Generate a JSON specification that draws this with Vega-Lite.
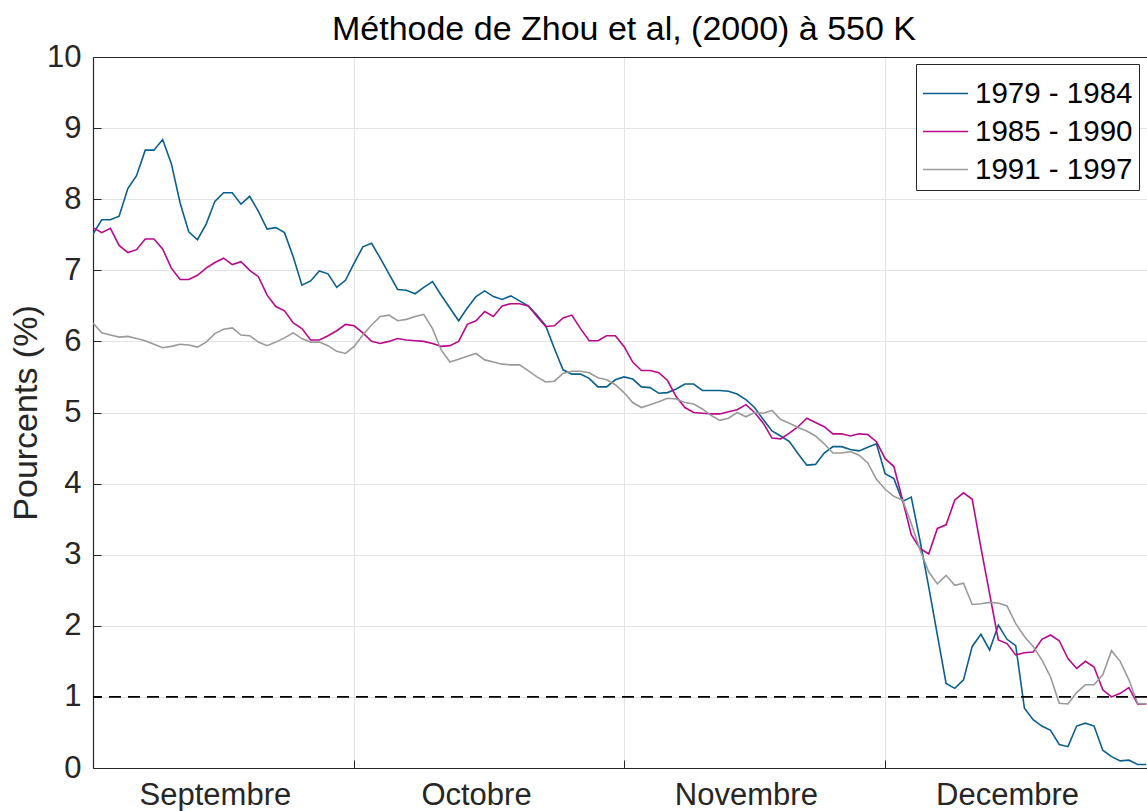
{
  "$schema": "https://vega.github.io/schema/vega-lite/v6.json",
  "width": 1054,
  "height": 711,
  "autosize": {"type": "none"},
  "padding": {"left": 93, "top": 57, "right": 0, "bottom": 43},
  "background": "white",
  "config": {
    "font": "Liberation Sans",
    "view": {"stroke": null},
    "axis": {"labelFont": "Liberation Sans", "titleFont": "Liberation Sans", "labelColor": "#262626", "titleColor": "#262626", "domainColor": "#262626", "tickColor": "#262626", "titleFontWeight": "normal"}
  },
  "title": {"text": "Méthode de Zhou et al, (2000) à 550 K", "fontSize": 34, "fontWeight": "normal", "color": "#000000", "anchor": "middle", "frame": "group", "offset": -6, "dx": 4, "font": "Liberation Sans"},
  "datasets": {
    "serie": [
      {"jour":0,"1979 - 1984":7.51,"1985 - 1990":7.60,"1991 - 1997":6.26},
      {"jour":1,"1979 - 1984":7.71,"1985 - 1990":7.53,"1991 - 1997":6.12},
      {"jour":2,"1979 - 1984":7.71,"1985 - 1990":7.59,"1991 - 1997":6.09},
      {"jour":3,"1979 - 1984":7.76,"1985 - 1990":7.35,"1991 - 1997":6.06},
      {"jour":4,"1979 - 1984":8.15,"1985 - 1990":7.25,"1991 - 1997":6.07},
      {"jour":5,"1979 - 1984":8.33,"1985 - 1990":7.29,"1991 - 1997":6.04},
      {"jour":6,"1979 - 1984":8.69,"1985 - 1990":7.44,"1991 - 1997":6.01},
      {"jour":7,"1979 - 1984":8.69,"1985 - 1990":7.44,"1991 - 1997":5.96},
      {"jour":8,"1979 - 1984":8.84,"1985 - 1990":7.30,"1991 - 1997":5.91},
      {"jour":9,"1979 - 1984":8.50,"1985 - 1990":7.03,"1991 - 1997":5.93},
      {"jour":10,"1979 - 1984":7.95,"1985 - 1990":6.87,"1991 - 1997":5.96},
      {"jour":11,"1979 - 1984":7.54,"1985 - 1990":6.87,"1991 - 1997":5.95},
      {"jour":12,"1979 - 1984":7.43,"1985 - 1990":6.93,"1991 - 1997":5.92},
      {"jour":13,"1979 - 1984":7.65,"1985 - 1990":7.03,"1991 - 1997":5.99},
      {"jour":14,"1979 - 1984":7.97,"1985 - 1990":7.11,"1991 - 1997":6.11},
      {"jour":15,"1979 - 1984":8.09,"1985 - 1990":7.17,"1991 - 1997":6.17},
      {"jour":16,"1979 - 1984":8.09,"1985 - 1990":7.08,"1991 - 1997":6.19},
      {"jour":17,"1979 - 1984":7.93,"1985 - 1990":7.12,"1991 - 1997":6.09},
      {"jour":18,"1979 - 1984":8.04,"1985 - 1990":7.00,"1991 - 1997":6.08},
      {"jour":19,"1979 - 1984":7.83,"1985 - 1990":6.91,"1991 - 1997":5.99},
      {"jour":20,"1979 - 1984":7.58,"1985 - 1990":6.65,"1991 - 1997":5.94},
      {"jour":21,"1979 - 1984":7.60,"1985 - 1990":6.49,"1991 - 1997":5.99},
      {"jour":22,"1979 - 1984":7.53,"1985 - 1990":6.43,"1991 - 1997":6.05},
      {"jour":23,"1979 - 1984":7.19,"1985 - 1990":6.26,"1991 - 1997":6.12},
      {"jour":24,"1979 - 1984":6.79,"1985 - 1990":6.18,"1991 - 1997":6.04},
      {"jour":25,"1979 - 1984":6.85,"1985 - 1990":6.02,"1991 - 1997":5.99},
      {"jour":26,"1979 - 1984":6.99,"1985 - 1990":6.02,"1991 - 1997":5.99},
      {"jour":27,"1979 - 1984":6.95,"1985 - 1990":6.08,"1991 - 1997":5.94},
      {"jour":28,"1979 - 1984":6.76,"1985 - 1990":6.15,"1991 - 1997":5.86},
      {"jour":29,"1979 - 1984":6.86,"1985 - 1990":6.24,"1991 - 1997":5.83},
      {"jour":30,"1979 - 1984":7.10,"1985 - 1990":6.22,"1991 - 1997":5.93},
      {"jour":31,"1979 - 1984":7.33,"1985 - 1990":6.12,"1991 - 1997":6.09},
      {"jour":32,"1979 - 1984":7.38,"1985 - 1990":6.00,"1991 - 1997":6.23},
      {"jour":33,"1979 - 1984":7.17,"1985 - 1990":5.97,"1991 - 1997":6.35},
      {"jour":34,"1979 - 1984":6.95,"1985 - 1990":6.00,"1991 - 1997":6.37},
      {"jour":35,"1979 - 1984":6.73,"1985 - 1990":6.04,"1991 - 1997":6.29},
      {"jour":36,"1979 - 1984":6.72,"1985 - 1990":6.02,"1991 - 1997":6.31},
      {"jour":37,"1979 - 1984":6.67,"1985 - 1990":6.01,"1991 - 1997":6.35},
      {"jour":38,"1979 - 1984":6.76,"1985 - 1990":6.00,"1991 - 1997":6.38},
      {"jour":39,"1979 - 1984":6.84,"1985 - 1990":5.97,"1991 - 1997":6.18},
      {"jour":40,"1979 - 1984":6.65,"1985 - 1990":5.93,"1991 - 1997":5.88},
      {"jour":41,"1979 - 1984":6.47,"1985 - 1990":5.94,"1991 - 1997":5.71},
      {"jour":42,"1979 - 1984":6.29,"1985 - 1990":6.00,"1991 - 1997":5.75},
      {"jour":43,"1979 - 1984":6.47,"1985 - 1990":6.24,"1991 - 1997":5.79},
      {"jour":44,"1979 - 1984":6.63,"1985 - 1990":6.29,"1991 - 1997":5.83},
      {"jour":45,"1979 - 1984":6.71,"1985 - 1990":6.42,"1991 - 1997":5.74},
      {"jour":46,"1979 - 1984":6.63,"1985 - 1990":6.35,"1991 - 1997":5.71},
      {"jour":47,"1979 - 1984":6.59,"1985 - 1990":6.50,"1991 - 1997":5.68},
      {"jour":48,"1979 - 1984":6.64,"1985 - 1990":6.53,"1991 - 1997":5.67},
      {"jour":49,"1979 - 1984":6.57,"1985 - 1990":6.53,"1991 - 1997":5.67},
      {"jour":50,"1979 - 1984":6.50,"1985 - 1990":6.50,"1991 - 1997":5.59},
      {"jour":51,"1979 - 1984":6.37,"1985 - 1990":6.35,"1991 - 1997":5.50},
      {"jour":52,"1979 - 1984":6.22,"1985 - 1990":6.21,"1991 - 1997":5.43},
      {"jour":53,"1979 - 1984":5.90,"1985 - 1990":6.22,"1991 - 1997":5.44},
      {"jour":54,"1979 - 1984":5.60,"1985 - 1990":6.33,"1991 - 1997":5.55},
      {"jour":55,"1979 - 1984":5.54,"1985 - 1990":6.37,"1991 - 1997":5.58},
      {"jour":56,"1979 - 1984":5.54,"1985 - 1990":6.18,"1991 - 1997":5.58},
      {"jour":57,"1979 - 1984":5.48,"1985 - 1990":6.01,"1991 - 1997":5.56},
      {"jour":58,"1979 - 1984":5.36,"1985 - 1990":6.01,"1991 - 1997":5.49},
      {"jour":59,"1979 - 1984":5.36,"1985 - 1990":6.08,"1991 - 1997":5.46},
      {"jour":60,"1979 - 1984":5.46,"1985 - 1990":6.08,"1991 - 1997":5.39},
      {"jour":61,"1979 - 1984":5.50,"1985 - 1990":5.93,"1991 - 1997":5.28},
      {"jour":62,"1979 - 1984":5.47,"1985 - 1990":5.71,"1991 - 1997":5.14},
      {"jour":63,"1979 - 1984":5.36,"1985 - 1990":5.59,"1991 - 1997":5.07},
      {"jour":64,"1979 - 1984":5.35,"1985 - 1990":5.59,"1991 - 1997":5.11},
      {"jour":65,"1979 - 1984":5.27,"1985 - 1990":5.56,"1991 - 1997":5.15},
      {"jour":66,"1979 - 1984":5.28,"1985 - 1990":5.45,"1991 - 1997":5.20},
      {"jour":67,"1979 - 1984":5.33,"1985 - 1990":5.22,"1991 - 1997":5.19},
      {"jour":68,"1979 - 1984":5.40,"1985 - 1990":5.07,"1991 - 1997":5.14},
      {"jour":69,"1979 - 1984":5.40,"1985 - 1990":5.00,"1991 - 1997":5.12},
      {"jour":70,"1979 - 1984":5.31,"1985 - 1990":4.99,"1991 - 1997":5.05},
      {"jour":71,"1979 - 1984":5.31,"1985 - 1990":4.98,"1991 - 1997":4.96},
      {"jour":72,"1979 - 1984":5.31,"1985 - 1990":4.98,"1991 - 1997":4.89},
      {"jour":73,"1979 - 1984":5.30,"1985 - 1990":5.01,"1991 - 1997":4.92},
      {"jour":74,"1979 - 1984":5.26,"1985 - 1990":5.04,"1991 - 1997":5.00},
      {"jour":75,"1979 - 1984":5.18,"1985 - 1990":5.11,"1991 - 1997":4.94},
      {"jour":76,"1979 - 1984":5.07,"1985 - 1990":5.00,"1991 - 1997":5.00},
      {"jour":77,"1979 - 1984":4.90,"1985 - 1990":4.85,"1991 - 1997":4.99},
      {"jour":78,"1979 - 1984":4.74,"1985 - 1990":4.64,"1991 - 1997":5.03},
      {"jour":79,"1979 - 1984":4.67,"1985 - 1990":4.63,"1991 - 1997":4.90},
      {"jour":80,"1979 - 1984":4.59,"1985 - 1990":4.71,"1991 - 1997":4.85},
      {"jour":81,"1979 - 1984":4.42,"1985 - 1990":4.80,"1991 - 1997":4.79},
      {"jour":82,"1979 - 1984":4.26,"1985 - 1990":4.92,"1991 - 1997":4.74},
      {"jour":83,"1979 - 1984":4.27,"1985 - 1990":4.86,"1991 - 1997":4.67},
      {"jour":84,"1979 - 1984":4.43,"1985 - 1990":4.80,"1991 - 1997":4.56},
      {"jour":85,"1979 - 1984":4.52,"1985 - 1990":4.70,"1991 - 1997":4.43},
      {"jour":86,"1979 - 1984":4.52,"1985 - 1990":4.70,"1991 - 1997":4.43},
      {"jour":87,"1979 - 1984":4.48,"1985 - 1990":4.67,"1991 - 1997":4.45},
      {"jour":88,"1979 - 1984":4.46,"1985 - 1990":4.70,"1991 - 1997":4.40},
      {"jour":89,"1979 - 1984":4.51,"1985 - 1990":4.69,"1991 - 1997":4.29},
      {"jour":90,"1979 - 1984":4.56,"1985 - 1990":4.59,"1991 - 1997":4.06},
      {"jour":91,"1979 - 1984":4.14,"1985 - 1990":4.35,"1991 - 1997":3.92},
      {"jour":92,"1979 - 1984":4.07,"1985 - 1990":4.24,"1991 - 1997":3.82},
      {"jour":93,"1979 - 1984":3.75,"1985 - 1990":3.77,"1991 - 1997":3.77},
      {"jour":94,"1979 - 1984":3.81,"1985 - 1990":3.28,"1991 - 1997":3.44},
      {"jour":95,"1979 - 1984":3.20,"1985 - 1990":3.09,"1991 - 1997":3.07},
      {"jour":96,"1979 - 1984":2.55,"1985 - 1990":3.01,"1991 - 1997":2.76},
      {"jour":97,"1979 - 1984":1.87,"1985 - 1990":3.37,"1991 - 1997":2.59},
      {"jour":98,"1979 - 1984":1.19,"1985 - 1990":3.42,"1991 - 1997":2.71},
      {"jour":99,"1979 - 1984":1.12,"1985 - 1990":3.77,"1991 - 1997":2.57},
      {"jour":100,"1979 - 1984":1.24,"1985 - 1990":3.87,"1991 - 1997":2.60},
      {"jour":101,"1979 - 1984":1.71,"1985 - 1990":3.78,"1991 - 1997":2.30},
      {"jour":102,"1979 - 1984":1.88,"1985 - 1990":3.10,"1991 - 1997":2.31},
      {"jour":103,"1979 - 1984":1.66,"1985 - 1990":2.45,"1991 - 1997":2.33},
      {"jour":104,"1979 - 1984":2.01,"1985 - 1990":1.80,"1991 - 1997":2.32},
      {"jour":105,"1979 - 1984":1.81,"1985 - 1990":1.75,"1991 - 1997":2.28},
      {"jour":106,"1979 - 1984":1.72,"1985 - 1990":1.59,"1991 - 1997":2.03},
      {"jour":107,"1979 - 1984":0.84,"1985 - 1990":1.62,"1991 - 1997":1.85},
      {"jour":108,"1979 - 1984":0.68,"1985 - 1990":1.63,"1991 - 1997":1.71},
      {"jour":109,"1979 - 1984":0.59,"1985 - 1990":1.81,"1991 - 1997":1.52},
      {"jour":110,"1979 - 1984":0.53,"1985 - 1990":1.87,"1991 - 1997":1.28},
      {"jour":111,"1979 - 1984":0.33,"1985 - 1990":1.79,"1991 - 1997":0.91},
      {"jour":112,"1979 - 1984":0.30,"1985 - 1990":1.54,"1991 - 1997":0.90},
      {"jour":113,"1979 - 1984":0.59,"1985 - 1990":1.40,"1991 - 1997":1.06},
      {"jour":114,"1979 - 1984":0.63,"1985 - 1990":1.50,"1991 - 1997":1.17},
      {"jour":115,"1979 - 1984":0.59,"1985 - 1990":1.42,"1991 - 1997":1.17},
      {"jour":116,"1979 - 1984":0.25,"1985 - 1990":1.10,"1991 - 1997":1.31},
      {"jour":117,"1979 - 1984":0.16,"1985 - 1990":1.00,"1991 - 1997":1.65},
      {"jour":118,"1979 - 1984":0.10,"1985 - 1990":1.05,"1991 - 1997":1.50},
      {"jour":119,"1979 - 1984":0.11,"1985 - 1990":1.13,"1991 - 1997":1.24},
      {"jour":120,"1979 - 1984":0.05,"1985 - 1990":0.90,"1991 - 1997":0.91},
      {"jour":121,"1979 - 1984":0.05,"1985 - 1990":0.90,"1991 - 1997":0.90}
    ],
    "seuil": [{"seuil": 1}]
  },
  "layer": [
    {
      "data": {"name": "serie"},
      "transform": [{"fold": ["1979 - 1984", "1985 - 1990", "1991 - 1997"], "as": ["periode", "pourcent"]}],
      "mark": {"type": "line", "strokeWidth": 1.6, "clip": true},
      "encoding": {
        "x": {
          "field": "jour", "type": "quantitative",
          "scale": {"domain": [0, 121.08], "nice": false, "zero": false},
          "axis": {
            "title": null,
            "values": [14, 30, 44, 61, 75, 91, 105],
            "labelExpr": "datum.value == 14 ? 'Septembre' : datum.value == 44 ? 'Octobre' : datum.value == 75 ? 'Novembre' : datum.value == 105 ? 'Decembre' : ''",
            "labelFontSize": 31,
            "labelOverlap": false,
            "labelFlush": false,
            "labelBound": false,
            "labelPadding": 20,
            "tickSize": -8,
            "tickOpacity": {"condition": {"test": "datum.value == 30 || datum.value == 61 || datum.value == 91", "value": 1}, "value": 0},
            "grid": true,
            "gridColor": "#e3e3e3",
            "gridOpacity": {"condition": {"test": "datum.value == 30 || datum.value == 61 || datum.value == 91", "value": 1}, "value": 0},
            "domainWidth": 1.2
          }
        },
        "y": {
          "field": "pourcent", "type": "quantitative",
          "scale": {"domain": [0, 10], "nice": false},
          "axis": {
            "title": "Pourcents (%)",
            "titleFontSize": 34,
            "titlePadding": 3,
            "values": [0, 1, 2, 3, 4, 5, 6, 7, 8, 9, 10],
            "format": "d",
            "labelFontSize": 31,
            "labelPadding": 20,
            "tickSize": -8,
            "grid": true,
            "gridColor": {"condition": {"test": "datum.value == 10", "value": "#262626"}, "value": "#e3e3e3"},
            "domainWidth": 1.2
          }
        },
        "color": {
          "field": "periode", "type": "nominal",
          "scale": {"domain": ["1979 - 1984", "1985 - 1990", "1991 - 1997"], "range": ["#0b5f8c", "#b8098a", "#9a9a9a"]},
          "legend": {
            "title": null,
            "orient": "none",
            "legendX": 823,
            "legendY": 7,
            "strokeColor": "#262626",
            "fillColor": "white",
            "padding": 6,
            "symbolType": "stroke",
            "symbolSize": 2025,
            "symbolStrokeWidth": 1.5,
            "labelFontSize": 29.5,
            "labelFont": "Liberation Sans",
            "labelColor": "#000000",
            "labelOffset": 6,
            "rowPadding": 0
          }
        }
      }
    },
    {
      "data": {"name": "seuil"},
      "mark": {"type": "rule", "color": "#000000", "strokeWidth": 1.6, "strokeDash": [12, 7]},
      "encoding": {"y": {"field": "seuil", "type": "quantitative"}}
    }
  ]
}
